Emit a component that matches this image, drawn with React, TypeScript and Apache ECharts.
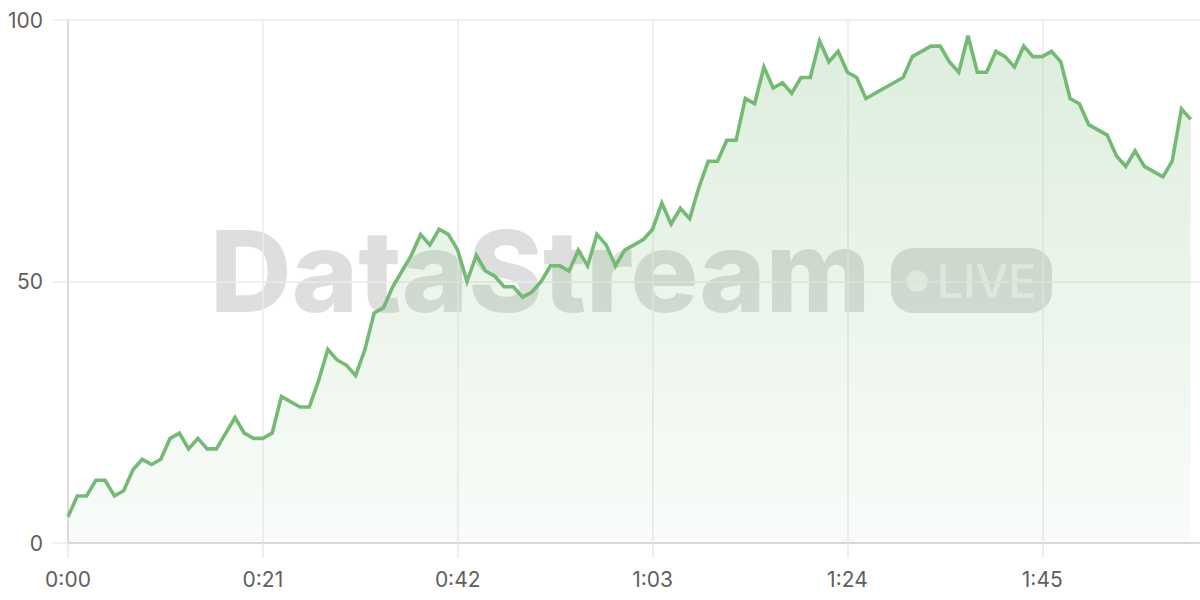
import React, { useEffect, useRef } from "react";
import * as echarts from "echarts";

// seconds since start (one sample per second)
const seconds: number[] = Array.from({ length: 122 }, (_, i) => i);
const values: number[] = [
  5, 9, 9, 12, 12, 9, 10, 14, 16, 15,
  16, 20, 21, 18, 20, 18, 18, 21, 24, 21,
  20, 20, 21, 28, 27, 26, 26, 31, 37, 35,
  34, 32, 37, 44, 45, 49, 52, 55, 59, 57,
  60, 59, 56, 50, 55, 52, 51, 49, 49, 47,
  48, 50, 53, 53, 52, 56, 53, 59, 57, 53,
  56, 57, 58, 60, 65, 61, 64, 62, 68, 73,
  73, 77, 77, 85, 84, 91, 87, 88, 86, 89,
  89, 96, 92, 94, 90, 89, 85, 86, 87, 88,
  89, 93, 94, 95, 95, 92, 90, 97, 90, 90,
  94, 93, 91, 95, 93, 93, 94, 92, 85, 84,
  80, 79, 78, 74, 72, 75, 72, 71, 70, 73,
  83, 81,
];
const yTicks: number[] = [0, 50, 100];
const xTickInterval = 21;
const xMax = 122;
const watermarkText = "DataStream";
const badgeText = "LIVE";

const fmtTime = (v: number) => {
  const m = Math.floor(v / 60);
  const s = Math.round(v % 60);
  return `${m}:${s < 10 ? "0" + s : s}`;
};

export default function App() {
  const ref = useRef<HTMLDivElement>(null);
  useEffect(() => {
    if (!ref.current) return;
    const chart = echarts.init(ref.current, undefined, { renderer: "svg" });
    const data = seconds.map((t, i) => [t, values[i]]);
    const green = "rgb(116,186,116)";
    chart.setOption({
      animation: false,
      backgroundColor: "#ffffff",
      textStyle: { fontFamily: "Inter, 'Noto Sans', sans-serif" },
      grid: { left: 68, right: 0, top: 20, bottom: 57, containLabel: false },
      xAxis: {
        type: "value",
        min: 0,
        max: xMax,
        interval: xTickInterval,
        axisLine: { show: true, lineStyle: { color: "#d2d2d2", width: 1.5 } },
        axisTick: { show: true, length: 15, lineStyle: { color: "#e8e8e8", width: 1.5 } },
        axisLabel: {
          margin: 26,
          color: "#5f5f5f",
          fontSize: 21,
          fontFamily: "Inter, sans-serif",
          showMaxLabel: false,
          formatter: (v: number) => fmtTime(v),
        },
        splitLine: { show: true, showMaxLine: false, lineStyle: { color: "#ebebeb", width: 1.5 } },
      },
      yAxis: {
        type: "value",
        min: yTicks[0],
        max: yTicks[yTicks.length - 1],
        interval: yTicks[1] - yTicks[0],
        axisLine: { show: true, lineStyle: { color: "#d6d6d6", width: 1.5 } },
        axisTick: { show: true, length: 16, lineStyle: { color: "#ebebeb", width: 1.5 } },
        axisLabel: { margin: 25, color: "#5f5f5f", fontSize: 21, fontFamily: "Inter, sans-serif" },
        splitLine: { show: true, lineStyle: { color: "#ebebeb", width: 1.5 } },
      },
      graphic: [
        {
          type: "group",
          z: -1,
          silent: true,
          children: [
            {
              type: "text",
              x: 210,
              y: 214,
              style: {
                text: watermarkText,
                fontFamily: "Inter, sans-serif",
                fontWeight: 800,
                fontSize: 113,
                fill: "rgba(0,0,0,0.13)",
                verticalAlign: "top",
              },
            },
            {
              type: "rect",
              shape: { x: 891, y: 248, width: 161, height: 65, r: 22 },
              style: { fill: "rgba(0,0,0,0.13)" },
            },
            {
              type: "circle",
              shape: { cx: 917, cy: 281, r: 10.8 },
              style: { fill: "rgba(255,255,255,0.55)" },
            },
            {
              type: "text",
              x: 937,
              y: 281,
              style: {
                text: badgeText,
                fontFamily: "Inter, sans-serif",
                fontWeight: 500,
                fontSize: 46,
                fill: "rgba(255,255,255,0.55)",
                verticalAlign: "middle",
              },
            },
          ],
        },
      ],
      series: [
        {
          type: "line",
          data,
          symbol: "none",
          z: 3,
          lineStyle: { color: green, width: 3.6, join: "miter" },
          itemStyle: { color: green },
          areaStyle: {
            color: new echarts.graphic.LinearGradient(0, 0, 0, 1, [
              { offset: 0, color: "rgba(116,186,116,0.35)" },
              { offset: 1, color: "rgba(116,186,116,0.06)" },
            ]),
          },
        },
      ],
    });
    return () => chart.dispose();
  }, []);
  return (
    <div
      ref={ref}
      style={{ position: "absolute", left: 0, top: 0, width: 1200, height: 600 }}
    />
  );
}
